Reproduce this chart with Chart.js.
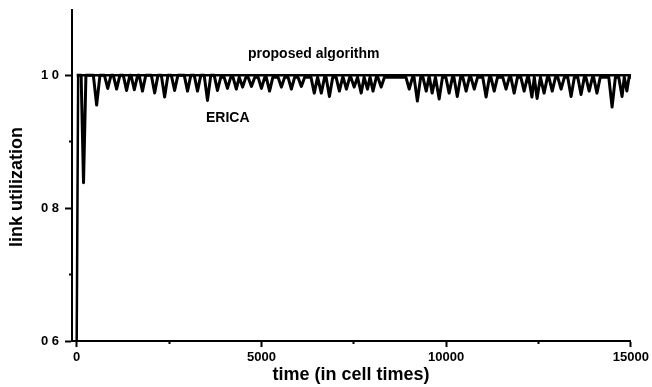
<!DOCTYPE html>
<html>
<head>
<meta charset="utf-8">
<script src="https://cdn.jsdelivr.net/npm/chart.js@4.4.1/dist/chart.umd.min.js"></script>
<style>
  body { margin: 0; background: #fff; }
  #wrap { width: 652px; height: 387px; }
</style>
</head>
<body>
<div id="wrap"><canvas id="chart"></canvas></div>
<script>
// tick values and labels
const xTickValues = [0, 5000, 10000, 15000];
const xTickLabels = ["0", "5000", "10000", "15000"];
const xMinorTicks = [2500, 7500, 12500];
const yTickValues = [0.6, 0.8, 1.0];
const yTickLabels = ["0 6", "0 8", "1 0"];
const yMinorTicks = [0.7, 0.9];

// proposed algorithm (time in cell times, utilization)
const proposedTime = [0, 40, 15000];
const proposedValue = [0.6, 1.0, 1.0];

// ERICA, one dip per line
const ericaTime = [
  0, 120, 185, 250,
  450, 540, 630,
  750, 840, 930,
  990, 1080, 1170,
  1260, 1350, 1440,
  1470, 1560, 1650,
  1690, 1780, 1870,
  2020, 2110, 2200,
  2290, 2380, 2470,
  2560, 2650, 2740,
  2910, 3000, 3090,
  3180, 3270, 3360,
  3450, 3540, 3630,
  3720, 3810, 3900,
  3990, 4080, 4170,
  4230, 4320, 4400,
  4410, 4490, 4580,
  4640, 4730, 4820,
  4910, 5000, 5090,
  5130, 5220, 5310,
  5450, 5540, 5630,
  5720, 5810, 5900,
  5990, 6080, 6170,
  6340, 6430, 6520,
  6530, 6620, 6710,
  6750, 6840, 6930,
  7020, 7110, 7200,
  7210, 7300, 7390,
  7420, 7510, 7600,
  7610, 7700, 7780,
  7790, 7870, 7940,
  7950, 8020, 8110,
  8150, 8240, 8330,
  8910, 9000, 9090,
  9130, 9220, 9310,
  9370, 9460, 9535,
  9545, 9620, 9710,
  9720, 9810, 9900,
  9990, 10080, 10170,
  10210, 10300, 10390,
  10450, 10540, 10630,
  10670, 10760, 10850,
  10990, 11080, 11170,
  11210, 11300, 11390,
  11530, 11620, 11710,
  11750, 11840, 11930,
  12020, 12110, 12200,
  12230, 12320, 12385,
  12395, 12460, 12550,
  12560, 12650, 12740,
  12780, 12870, 12960,
  13020, 13110, 13200,
  13290, 13380, 13470,
  13560, 13650, 13740,
  13780, 13870, 13960,
  13990, 14080, 14170,
  14400, 14490, 14580,
  14670, 14760, 14820,
  14830, 14890, 14950,
  15000
];
const ericaValue = [
  1.0, 1.0, 0.838, 1.0,
  1.0, 0.955, 1.0,
  1.0, 0.980, 1.0,
  1.0, 0.979, 1.0,
  1.0, 0.977, 1.0,
  1.0, 0.978, 1.0,
  1.0, 0.976, 1.0,
  1.0, 0.973, 1.0,
  1.0, 0.967, 1.0,
  1.0, 0.977, 1.0,
  1.0, 0.976, 1.0,
  1.0, 0.976, 1.0,
  1.0, 0.962, 1.0,
  1.0, 0.977, 0.997,
  0.997, 0.980, 0.997,
  0.997, 0.979, 0.997,
  0.997, 0.982, 0.997,
  0.997, 0.983, 0.997,
  0.997, 0.980, 0.997,
  0.997, 0.976, 0.997,
  0.997, 0.982, 0.997,
  0.997, 0.979, 0.997,
  0.997, 0.983, 0.997,
  0.997, 0.973, 0.997,
  0.997, 0.973, 0.997,
  0.997, 0.968, 0.997,
  0.997, 0.976, 0.997,
  0.997, 0.979, 0.997,
  0.997, 0.982, 0.997,
  0.997, 0.973, 0.997,
  0.997, 0.979, 0.997,
  0.997, 0.976, 0.997,
  0.997, 0.982, 0.997,
  0.997, 0.979, 0.997,
  0.997, 0.961, 0.997,
  0.997, 0.976, 0.997,
  0.997, 0.973, 0.997,
  0.997, 0.964, 0.997,
  0.997, 0.973, 0.997,
  0.997, 0.968, 0.997,
  0.997, 0.976, 0.997,
  0.997, 0.979, 0.997,
  0.997, 0.967, 0.997,
  0.997, 0.976, 0.997,
  0.997, 0.979, 0.997,
  0.997, 0.973, 0.997,
  0.997, 0.976, 0.997,
  0.997, 0.967, 0.997,
  0.997, 0.965, 0.997,
  0.997, 0.973, 0.997,
  0.997, 0.976, 0.997,
  0.997, 0.979, 0.997,
  0.997, 0.968, 0.997,
  0.997, 0.971, 0.997,
  0.997, 0.976, 0.997,
  0.997, 0.973, 0.997,
  0.997, 0.952, 0.997,
  0.997, 0.968, 0.997,
  0.997, 0.976, 0.997,
  0.997
];

const toPoints = (xs, ys) => xs.map((x, i) => ({ x: x, y: ys[i] }));

// axis titles and curve labels
const textPlugin = {
  id: "texts",
  afterDraw(chart) {
    const ctx = chart.ctx;
    ctx.save();
    ctx.fillStyle = "#000";
    ctx.textBaseline = "middle";

    ctx.font = "bold 14px 'Liberation Sans', Arial, sans-serif";
    ctx.textAlign = "left";
    ctx.fillText("proposed algorithm", 248, 54);
    ctx.fillText("ERICA", 206, 118);

    ctx.font = "bold 18px 'Liberation Sans', Arial, sans-serif";
    ctx.textAlign = "center";
    ctx.fillText("time (in cell times)", 351, 375);

    ctx.translate(17, 187);
    ctx.rotate(-Math.PI / 2);
    ctx.fillText("link utilization", 0, 0);
    ctx.restore();
  }
};

const tickFont = { family: "'Liberation Sans', Arial, sans-serif", size: 13, weight: "bold" };

new Chart(document.getElementById("chart"), {
  type: "line",
  data: {
    datasets: [
      {
        label: "ERICA",
        data: toPoints(ericaTime, ericaValue),
        borderColor: "#000",
        borderWidth: 3,
        borderJoinStyle: "round",
        pointRadius: 0,
        tension: 0,
        xAxisID: "x",
        yAxisID: "y"
      },
      {
        label: "proposed algorithm",
        data: toPoints(proposedTime, proposedValue),
        borderColor: "#000",
        borderWidth: 2.5,
        borderJoinStyle: "round",
        pointRadius: 0,
        tension: 0,
        xAxisID: "x",
        yAxisID: "y"
      }
    ]
  },
  options: {
    responsive: true,
    maintainAspectRatio: false,
    animation: false,
    layout: { padding: { top: 10, right: 20, left: 0, bottom: 0 } },
    plugins: { legend: { display: false }, tooltip: { enabled: false } },
    scales: {
      x: {
        type: "linear",
        position: "bottom",
        weight: 1,
        min: -127,
        max: 15000,
        afterBuildTicks: (s) => { s.ticks = xTickValues.map((v) => ({ value: v })); },
        afterFit: (s) => { s.height = 46; },
        ticks: {
          color: "#000",
          font: tickFont,
          padding: 3,
          maxRotation: 0,
          callback: (v) => xTickLabels[xTickValues.indexOf(v)]
        },
        grid: { drawOnChartArea: false, tickLength: 6, tickWidth: 2, tickColor: "#000" },
        border: { color: "#000", width: 2 }
      },
      x2: {
        type: "linear",
        position: "bottom",
        weight: 0,
        min: -127,
        max: 15000,
        afterBuildTicks: (s) => { s.ticks = xMinorTicks.map((v) => ({ value: v })); },
        afterFit: (s) => { s.height = 0; },
        ticks: { display: false },
        grid: { drawOnChartArea: false, tickLength: 3, tickWidth: 2, tickColor: "#000" },
        border: { display: false }
      },
      y: {
        type: "linear",
        position: "left",
        weight: 1,
        min: 0.6,
        max: 1.098,
        afterBuildTicks: (s) => { s.ticks = yTickValues.map((v) => ({ value: v })); },
        afterFit: (s) => { s.width = 72; s.paddingTop = 0; s.paddingBottom = 0; },
        ticks: {
          color: "#000",
          font: tickFont,
          padding: 6,
          callback: (v) => yTickLabels[yTickValues.indexOf(v)]
        },
        grid: { drawOnChartArea: false, tickLength: 7, tickWidth: 2, tickColor: "#000" },
        border: { color: "#000", width: 2 }
      },
      y2: {
        type: "linear",
        position: "left",
        weight: 0,
        min: 0.6,
        max: 1.098,
        afterBuildTicks: (s) => { s.ticks = yMinorTicks.map((v) => ({ value: v })); },
        afterFit: (s) => { s.width = 0; s.paddingTop = 0; s.paddingBottom = 0; },
        ticks: { display: false },
        grid: { drawOnChartArea: false, tickLength: 3, tickWidth: 2, tickColor: "#000" },
        border: { display: false }
      }
    }
  },
  plugins: [textPlugin]
});
</script>
</body>
</html>
